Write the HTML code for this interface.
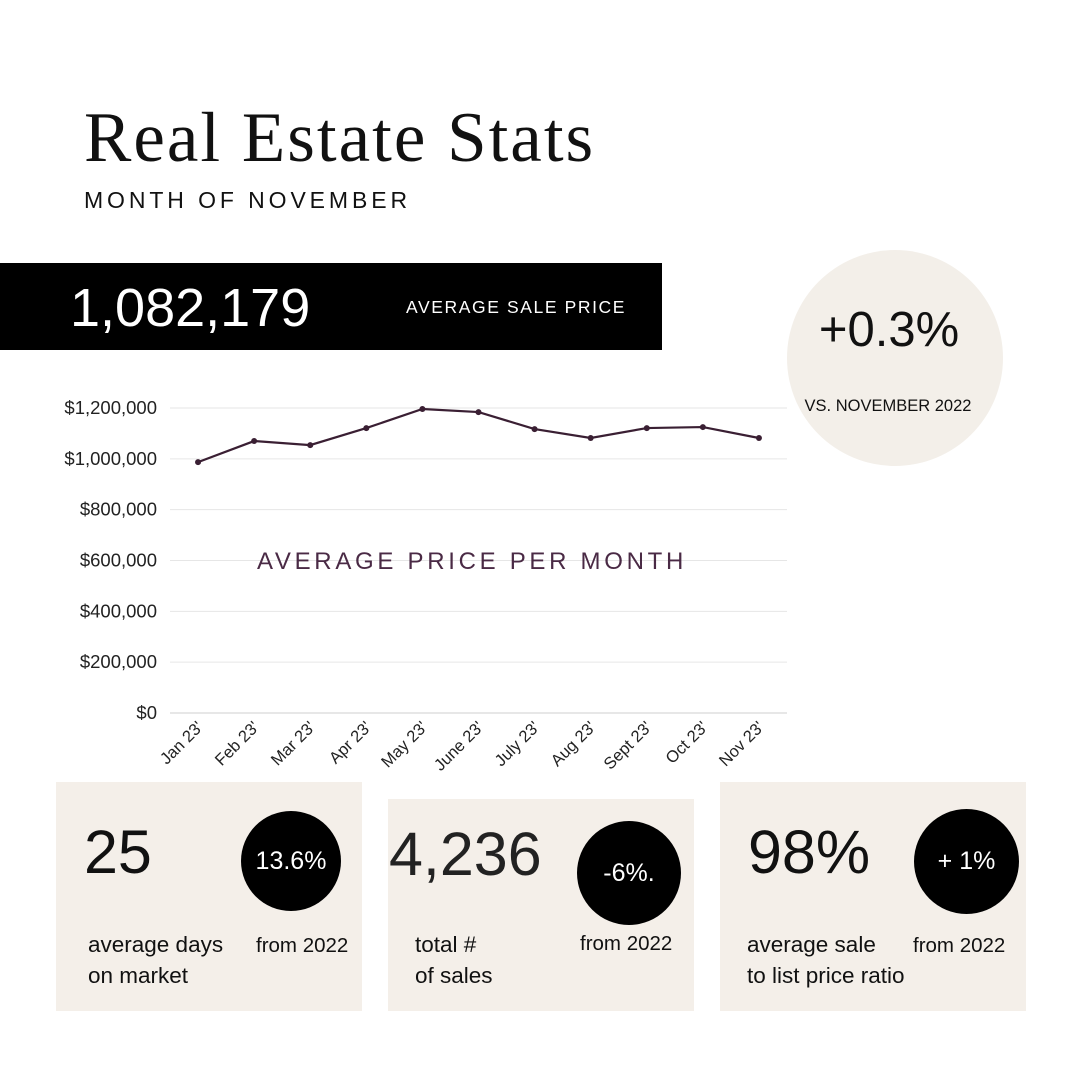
<!DOCTYPE html>
<html><head><meta charset="utf-8">
<style>
body{margin:0;width:1080px;height:1080px;background:#fff;position:relative;overflow:hidden;font-family:"Liberation Sans",sans-serif;color:#111}
.a{position:absolute;white-space:nowrap}
.box{position:absolute;background:#f4efe9}
.circ{position:absolute;border-radius:50%;background:#000;color:#fff;display:flex;align-items:center;justify-content:center;font-size:25px}
.big{font-size:61px;line-height:1}
.lbl{font-size:22.5px;line-height:31px}
.from{font-size:20.5px}
</style></head><body>
<div class="a" style="left:84px;top:98px;font-family:'Liberation Serif',serif;font-size:71px;letter-spacing:2px">Real Estate Stats</div>
<div class="a" style="left:84px;top:187px;font-size:23px;letter-spacing:3.9px">MONTH OF NOVEMBER</div>
<div class="a" style="left:0;top:263px;width:662px;height:87px;background:#000"></div>
<div class="a" style="left:70px;top:277px;color:#fff;font-size:54px">1,082,179</div>
<div class="a" style="left:406px;top:297px;color:#fff;font-size:17.5px;letter-spacing:1.6px">AVERAGE SALE PRICE</div>
<div class="a" style="left:787px;top:250px;width:216px;height:216px;border-radius:50%;background:#f3efe9"></div>
<div class="a" style="left:781px;width:216px;text-align:center;top:302px;font-size:49px">+0.3%</div>
<div class="a" style="left:780px;width:216px;text-align:center;top:397px;font-size:16.5px">VS. NOVEMBER 2022</div>

<svg class="a" style="left:0;top:0" width="1080" height="800" id="chart"></svg>

<div class="box" style="left:56px;top:782px;width:306px;height:229px"></div>
<div class="a big" style="left:84px;top:822px">25</div>
<div class="circ" style="left:241px;top:811px;width:100px;height:100px">13.6%</div>
<div class="a lbl" style="left:88px;top:929px">average days<br>on market</div>
<div class="a from" style="left:256px;top:934px">from 2022</div>

<div class="box" style="left:388px;top:799px;width:306px;height:212px"></div>
<div class="a big" style="left:389px;top:824px;color:#222">4,236</div>
<div class="circ" style="left:577px;top:821px;width:104px;height:104px">-6%.</div>
<div class="a lbl" style="left:415px;top:929px">total #<br>of sales</div>
<div class="a from" style="left:580px;top:932px">from 2022</div>

<div class="box" style="left:720px;top:782px;width:306px;height:229px"></div>
<div class="a big" style="left:748px;top:822px">98%</div>
<div class="circ" style="left:914px;top:809px;width:105px;height:105px">+ 1%</div>
<div class="a lbl" style="left:747px;top:929px">average sale<br>to list price ratio</div>
<div class="a from" style="left:913px;top:934px">from 2022</div>

<script>
const months=["Jan 23'","Feb 23'","Mar 23'","Apr 23'","May 23'","June 23'","July 23'","Aug 23'","Sept 23'","Oct 23'","Nov 23'"];
const prices=[987000,1070000,1054000,1121000,1196000,1184000,1117000,1082000,1121000,1125000,1082000];
const yTicks=[0,200000,400000,600000,800000,1000000,1200000];
const yTickLabels=["$0","$200,000","$400,000","$600,000","$800,000","$1,000,000","$1,200,000"];
const svg=document.getElementById('chart');
const NS='http://www.w3.org/2000/svg';
const x0=170,x1=787,y0=713,y1=408,yMax=1200000;
const step=(x1-x0)/months.length;
const xs=i=>x0+step*(i+0.5);
const ys=v=>y0-(v/yMax)*(y0-y1);
function el(t,a){const e=document.createElementNS(NS,t);for(const k in a)e.setAttribute(k,a[k]);svg.appendChild(e);return e;}
yTicks.forEach((v,i)=>{
 const l=el('line',{x1:x0,x2:x1,y1:ys(v),y2:ys(v),stroke:i==0?'#cfcfcf':'#e6e6e6','stroke-width':1});
 
 
 const t=el('text',{x:157,y:ys(v)+6,'text-anchor':'end','font-size':18.5,fill:'#222','font-family':'Liberation Sans, sans-serif'});
 t.textContent=yTickLabels[i];
 
 
});
const title=el('text',{x:472,y:569,'text-anchor':'middle','font-size':24,fill:'#4a2a45','letter-spacing':3.7,'font-family':'Liberation Sans, sans-serif'});
title.textContent='AVERAGE PRICE PER MONTH';


const pts=prices.map((v,i)=>xs(i)+','+ys(v)).join(' ');
const pl=el('polyline',{points:pts,fill:'none',stroke:'#3a1f33','stroke-width':2.2});


prices.forEach((v,i)=>{
 const c=el('circle',{cx:xs(i),cy:ys(v),r:3,fill:'#3a1f33'});
 
 
});
months.forEach((m,i)=>{
 const x=xs(i)+6,y=728;
 const t=el('text',{x:x,y:y,'text-anchor':'end','font-size':16.5,fill:'#222',transform:`rotate(-45 ${x} ${y})`,'font-family':'Liberation Sans, sans-serif'});
 t.textContent=m;
 
 
});
</script>
</body></html>
